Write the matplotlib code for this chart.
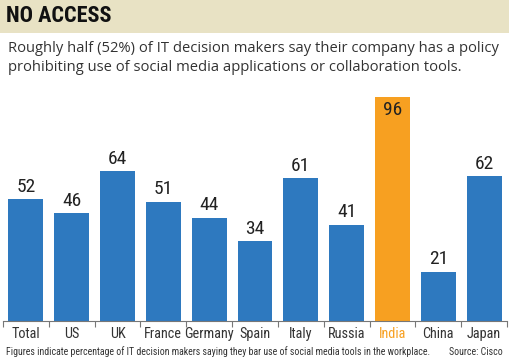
import numpy as np
import matplotlib.pyplot as plt
from matplotlib.patches import Rectangle

# Data
countries = ["Total", "US", "UK", "France", "Germany", "Spain",
             "Italy", "Russia", "India", "China", "Japan"]
values = [52, 46, 64, 51, 44, 34, 61, 41, 96, 21, 62]
highlight = "India"

blue = "#2e79bf"
orange = "#f7a021"
narrow = ["Roboto Condensed", "DejaVu Sans"]

fig = plt.figure(figsize=(5.1, 3.59), dpi=100)

# header band
fig.patches.append(Rectangle((0, 1 - 33 / 359), 1, 33 / 359, transform=fig.transFigure,
                             facecolor="#e8e2c4", edgecolor="none", zorder=0))
fig.text(6 / 510, 1 - 16 / 359, "NO ACCESS", family=narrow, weight="bold",
         fontsize=16, color="#111111", va="center", ha="left")
fig.text(8 / 510, 1 - 58 / 359,
         "Roughly half (52%) of IT decision makers say their company has a policy\n"
         "prohibiting use of social media applications or collaboration tools.",
         family="Open Sans", fontsize=10.6, color="#333333", va="center", ha="left",
         linespacing=1.35)

ax = fig.add_axes([3 / 510, 38.5 / 359, 504 / 510, 233 / 359])
x = np.arange(len(countries))
colors = [orange if c == highlight else blue for c in countries]
bars = ax.bar(x, values, width=0.76, color=colors)

for xi, v in zip(x, values):
    if v > 90:
        ax.text(xi, v - 2, str(v), ha="center", va="top", family=narrow,
                fontsize=14, color="#222222")
    else:
        ax.text(xi, v + 1.5, str(v), ha="center", va="bottom", family=narrow,
                fontsize=14, color="#222222")

ax.set_xlim(-0.5, len(countries) - 0.5)
ax.set_ylim(0, 100)
ax.set_yticks([])
ax.set_xticks(x)
ax.set_xticklabels(countries, family=narrow, fontsize=10.3, color="#333333")
for lbl in ax.get_xticklabels():
    if lbl.get_text() == highlight:
        lbl.set_color(orange)
ax.tick_params(axis="x", which="major", length=0, pad=5)
ax.set_xticks(np.arange(-0.5, len(countries)), minor=True)
ax.tick_params(axis="x", which="minor", length=4, color="#777777", width=0.8)
for s in ["top", "left", "right"]:
    ax.spines[s].set_visible(False)
ax.spines["bottom"].set_color("#777777")
ax.spines["bottom"].set_linewidth(0.8)

fig.text(6 / 510, 7 / 359,
         "Figures indicate percentage of IT decision makers saying they bar use of social media tools in the workplace.",
         family=narrow, fontsize=7.1, color="#333333", va="center", ha="left")
fig.text(503 / 510, 7 / 359, "Source: Cisco", family=narrow, fontsize=7.1,
         color="#333333", va="center", ha="right")

fig.savefig("out.png", dpi=100)
